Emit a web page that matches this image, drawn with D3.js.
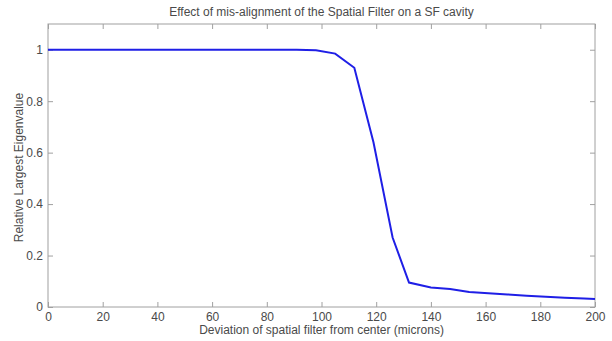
<!DOCTYPE html>
<html>
<head>
<meta charset="utf-8">
<script src="https://cdn.jsdelivr.net/npm/d3@7"></script>
<style>
    body { margin: 0; background: #fff; }
    text { font-family: "Liberation Sans", Arial, sans-serif; fill: #4a4a4a; }
</style>
</head>
<body>
<div id="chart"></div>
<script>
// deviation of spatial filter (microns) vs relative largest eigenvalue
var deviation = [0, 84, 91, 98, 105, 112, 119, 126, 132, 140, 147, 154, 161, 168, 175, 182, 189, 196, 200];
var eigenvalue = [1.0, 1.0, 1.0, 0.998, 0.985, 0.93, 0.64, 0.27, 0.095, 0.076, 0.07, 0.058, 0.053, 0.049, 0.044, 0.04, 0.036, 0.033, 0.031];
var xTicks = [0, 20, 40, 60, 80, 100, 120, 140, 160, 180, 200];
var yTicks = [0, 0.2, 0.4, 0.6, 0.8, 1];

var svgWidth = 612;
var svgHeight = 341;
var margin = { top: 24, bottom: 34, right: 17, left: 48 };
var width = svgWidth - margin.left - margin.right;
var height = svgHeight - margin.top - margin.bottom;

var svg = d3.select("#chart")
    .append("svg")
    .attr("width", svgWidth)
    .attr("height", svgHeight);

var chartGroup = svg.append("g")
    .attr("transform", `translate(${margin.left}, ${margin.top})`);

var xScale = d3.scaleLinear().domain([0, 200]).range([0, width]);
var yScale = d3.scaleLinear().domain([0, 1.1]).range([height, 0]);

// box
chartGroup.append("rect")
    .attr("width", width)
    .attr("height", height)
    .attr("fill", "none")
    .attr("stroke", "#a0a0a0");

// axes with inward ticks
function styleAxis(g) {
    g.select(".domain").remove();
    g.selectAll(".tick line").attr("stroke", "#a0a0a0");
    g.selectAll(".tick text").attr("font-size", 12).attr("fill", "#4a4a4a");
}

chartGroup.append("g")
    .attr("transform", `translate(0, ${height})`)
    .call(d3.axisBottom(xScale).tickValues(xTicks).tickSizeInner(-5).tickSizeOuter(0).tickPadding(5).tickFormat(d3.format("d")))
    .call(styleAxis);

chartGroup.append("g")
    .call(d3.axisTop(xScale).tickValues(xTicks).tickSizeInner(-5).tickSizeOuter(0).tickFormat(""))
    .call(styleAxis);

chartGroup.append("g")
    .call(d3.axisLeft(yScale).tickValues(yTicks).tickSizeInner(-5).tickSizeOuter(0).tickPadding(5).tickFormat(d3.format("~g")))
    .call(styleAxis);

chartGroup.append("g")
    .attr("transform", `translate(${width}, 0)`)
    .call(d3.axisRight(yScale).tickValues(yTicks).tickSizeInner(-5).tickSizeOuter(0).tickFormat(""))
    .call(styleAxis);

// line
var line = d3.line()
    .x((d, i) => xScale(deviation[i]))
    .y((d) => yScale(d));

chartGroup.append("path")
    .datum(eigenvalue)
    .attr("d", line)
    .attr("fill", "none")
    .attr("stroke", "#1f1fe6")
    .attr("stroke-width", 2);

// title and labels
svg.append("text")
    .attr("x", margin.left + width / 2)
    .attr("y", 15.5)
    .attr("text-anchor", "middle")
    .attr("font-size", 12)
    .text("Effect of mis-alignment of the Spatial Filter on a SF cavity");

svg.append("text")
    .attr("x", margin.left + width / 2)
    .attr("y", 333.5)
    .attr("text-anchor", "middle")
    .attr("font-size", 12)
    .text("Deviation of spatial filter from center (microns)");

svg.append("text")
    .attr("transform", "rotate(-90)")
    .attr("x", -(margin.top + height / 2) - 2)
    .attr("y", 23)
    .attr("text-anchor", "middle")
    .attr("font-size", 12)
    .text("Relative Largest Eigenvalue");
</script>
</body>
</html>
